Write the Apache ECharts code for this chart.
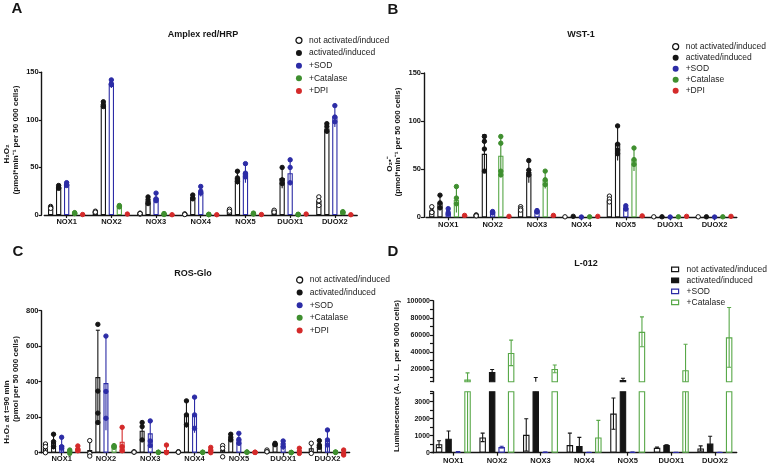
<!DOCTYPE html>
<html>
<head>
<meta charset="utf-8">
<script src="https://cdn.jsdelivr.net/npm/echarts@6/dist/echarts.min.js"></script>
<style>
html, body { margin: 0; padding: 0; background: #fff; }
#main { width: 767px; height: 465px; }
</style>
</head>
<body>
<div id="main"></div>
<script>
var categories = ['NOX1', 'NOX2', 'NOX3', 'NOX4', 'NOX5', 'DUOX1', 'DUOX2'];
var treatments = ['not activated/induced', 'activated/induced', '+SOD', '+Catalase', '+DPI'];

// A - Amplex red/HRP, rows = treatments, cols = categories
var amplexMean = [
    [8, 3, 1.5, 1, 5, 4, 15],
    [29, 116, 15, 18.5, 39, 39, 91],
    [32, 138, 17.5, 24.5, 44, 44, 103.5],
    [2, 9, 1, 0.5, 1.5, 0.5, 3],
    [0.5, 1, 0.3, 0.3, 0.5, 1, 0.3]
];
var amplexErr = [
    [1.5, 1, 0.5, 0.5, 1.5, 1.5, 4.5],
    [2.5, 3, 4, 2.5, 7, 11, 5],
    [2, 4.5, 5, 5, 10, 13, 11],
    [0.5, 1, 0.5, 0.3, 0.5, 0.3, 1],
    [0, 0, 0, 0, 0, 0, 0]
];
var amplexPts = [
    [[9, 8, 7], [3, 4, 3], [1, 2, 1.5], [1, 1, 0.5], [5, 6, 4], [4, 5, 3], [19, 15, 10]],
    [[31, 29, 28], [119, 116, 114], [19, 16, 12], [21, 18, 17], [46, 39, 35], [50, 37, 33], [96, 93, 88]],
    [[34, 32, 31], [142, 138, 137], [23, 17, 15], [30, 25, 23], [54, 44, 40], [58, 50, 34], [115, 103, 98]],
    [[2.5, 2, 1.5], [10, 9, 8.5], [1.5, 1, 0.5], [0.8, 0.5, 0.3], [2, 1.5, 1], [0.8, 0.5, 0.3], [3.5, 3, 2.5]],
    [[0.5], [1], [0.3], [0.3], [0.5], [1], [0.3]]
];

// B - WST-1
var wstMean = [
    [6, 2, 8.5, 0.5, 18, 0.5, 0.5],
    [15, 66, 47, 1, 77, 0.5, 0.5],
    [4, 5, 6, 0.3, 9.5, 0.3, 0.3],
    [18, 64, 39, 0.5, 60, 0.5, 0.5],
    [2, 1, 2, 1, 1.5, 1, 1]
];
var wstErr = [
    [3, 0.5, 1.5, 0, 2.5, 0, 0],
    [8, 20, 11, 0, 18, 0, 0],
    [3, 1, 1, 0, 1.5, 0, 0],
    [13, 20, 9, 0, 12, 0, 0],
    [0, 0, 0, 0, 0, 0, 0]
];
var wstPts = [
    [[11, 6, 5], [2.5, 2, 1.5], [11, 9, 7.5], [0.5], [22, 19, 16], [0.5], [0.5]],
    [[23, 15, 10], [84, 79, 71, 48], [59, 49, 44], [1], [95, 76, 70, 66], [0.5], [0.5]],
    [[9, 5, 3.5], [6, 5, 4.5], [7, 6, 5.5], [0.3], [12, 9.5, 8.5], [0.3], [0.3]],
    [[32, 20, 14], [84, 77, 48, 44], [48, 39, 34], [0.5], [72, 60, 55], [0.5], [0.5]],
    [[2], [1], [2], [1], [1.5], [1], [1]]
];

// C - ROS-Glo
var rosMean = [
    [25, 15, 4, 4, 15, 8, 25],
    [62, 426, 124, 217, 82, 48, 43],
    [43, 392, 109, 213, 75, 40, 66],
    [9, 40, 2, 2, 3, 1, 3],
    [25, 62, 15, 15, 2, 15, -2]
];
var rosErr = [
    [24, 53, 2, 2, 25, 7, 28],
    [42, 264, 46, 75, 22, 5, 25],
    [44, 265, 70, 100, 34, 26, 62],
    [6, 5, 1, 1, 1, 1, 1],
    [13, 81, 28, 15, 1, 12, 13]
];
var rosPts = [
    [[49, 34, 0], [68, -4, -19], [5, 4, 3], [5, 4, 3], [40, 25, -23], [15, 6, 5], [53, -4]],
    [[104, 62, 34], [723, 347, 223, 170], [170, 147, 72], [292, 213, 157], [104, 87, 72], [53, 47, 45], [68, 43, 30]],
    [[87, 34, 25], [657, 345, 194], [179, 66, 40], [313, 213, 138], [109, 75, 53], [66, 49, 34], [128, 72, 43]],
    [[15, 8, -4], [40, 35, 30], [3, 2, 1], [3, 2, 1], [4, 3, 2], [2, 1, 0], [4, 3, 1]],
    [[38, 19, 11], [143, 34, 11], [43, 0], [30, 15, 0], [3, 2, 1], [25, -4], [15, -4, -13]]
];

// D - L-012 (no DPI)
var lumMean = [
    [500, 900, 1050, 450, 2300, 290, 250],
    [820, 16500, 5500, 400, 7000, 450, 540],
    [60, 330, 30, 20, 30, 20, 20],
    [7500, 38800, 20000, 900, 63500, 18500, 57000]
];
var lumErr = [
    [200, 250, 950, 700, 920, 40, 150],
    [460, 2800, 4500, 500, 2000, 20, 430],
    [15, 50, 5, 5, 5, 5, 5],
    [7800, 15000, 4500, 1000, 17500, 30500, 35000]
];

var lumLowTicks = [0, 500, 1000, 1500, 2000, 2500, 3000, 3500, 3590];
var lumLowLabels = [0, 1000, 2000, 3000];
var lumHighTicks = [5000, 10000, 20000, 30000, 40000, 50000, 60000, 70000, 80000, 90000, 100000];
var lumHighLabels = [20000, 40000, 60000, 80000, 100000];

var FONT = '"Liberation Sans", Arial, sans-serif';
var BLACK = '#151515', BLUE = '#2c2ca6', GREEN = '#3f8f2f', LGREEN = '#58a848', RED = '#d42a2a';
var dotColors = [BLACK, BLACK, BLUE, GREEN, RED];

var myChart = echarts.init(document.getElementById('main'));

function catAxis(g, show, margin) {
    return {
        type: 'category', gridIndex: g, data: categories, show: show,
        axisLine: { lineStyle: { color: BLACK, width: 1.4 } },
        axisTick: { show: true, alignWithLabel: true, length: 3, lineStyle: { color: BLACK, width: 1.2 } },
        axisLabel: { interval: 0, fontSize: 7.5, fontWeight: 'bold', color: BLACK, fontFamily: FONT, margin: margin }
    };
}

function valAxis(g, min, max, interval, offset) {
    return {
        type: 'value', gridIndex: g, min: min, max: max, interval: interval, offset: offset,
        splitLine: { show: false },
        axisLine: { show: true, lineStyle: { color: BLACK, width: 1.4 } },
        axisTick: { show: true, length: 3, lineStyle: { color: BLACK, width: 1.2 } },
        axisLabel: { fontSize: 7.5, fontWeight: 'bold', color: BLACK, fontFamily: FONT, margin: 3,
            formatter: function (v) { return String(v); } }
    };
}

// error bar + individual points for one treatment, offset like the bars
function markRender(k, n, step, means, errs, pts, col, hollow) {
    return function (params, api) {
        var i = params.dataIndex;
        var m = means[k][i], e = errs[k][i];
        var off = (k - (n - 1) / 2) * step;
        var kids = [];
        var x = api.coord([i, m])[0] + off;
        if (e > 0) {
            var lowV = m - e;
            var clamped = false;
            if (m >= 0 && lowV < 0) { lowV = 0; clamped = true; }
            var yt = api.coord([i, m + e])[1];
            var yl = api.coord([i, lowV])[1];
            kids.push({ type: 'line', shape: { x1: x, y1: yl, x2: x, y2: yt }, style: { stroke: col, lineWidth: 1.1 } });
            kids.push({ type: 'line', shape: { x1: x - 2, y1: yt, x2: x + 2, y2: yt }, style: { stroke: col, lineWidth: 1.1 } });
            if (!clamped && !pts) {
                kids.push({ type: 'line', shape: { x1: x - 2, y1: yl, x2: x + 2, y2: yl }, style: { stroke: col, lineWidth: 1.1 } });
            }
        }
        if (pts) {
            pts[k][i].forEach(function (v) {
                var y = api.coord([i, v])[1];
                kids.push({ type: 'circle', shape: { cx: x, cy: y, r: 2.2 },
                    style: { fill: hollow ? '#fff' : col, stroke: col, lineWidth: 1 } });
            });
        }
        return { type: 'group', children: kids };
    };
}

function panel(g, means, errs, pts, barW, step, fills, borders, clip) {
    var n = means.length;
    var list = [];
    for (var k = 0; k < n; k++) {
        list.push({
            type: 'bar', name: treatments[k], xAxisIndex: g, yAxisIndex: g, data: means[k],
            barWidth: barW, barGap: Math.round((step - barW) / barW * 100) + '%',
            itemStyle: { color: fills[k], borderColor: borders[k], borderWidth: 1.1 }, z: 2
        });
    }
    for (var k2 = 0; k2 < n; k2++) {
        list.push({
            type: 'custom', name: treatments[k2], xAxisIndex: g, yAxisIndex: g, clip: clip, z: 3,
            data: means[k2].map(function (v, i) { return [i, v]; }),
            renderItem: markRender(k2, n, step, means, errs, pts, pts ? dotColors[k2] : borders[k2], k2 === 0)
        });
    }
    return list;
}

var whiteFills = ['#fff', '#fff', '#fff', '#fff', '#fff'];
var abcBorders = [BLACK, BLACK, BLUE, LGREEN, RED];
var lumFills = ['#fff', BLACK, '#fff', '#fff'];
var lumBorders = [BLACK, BLACK, BLUE, LGREEN];

var series = [].concat(
    panel(0, amplexMean, amplexErr, amplexPts, 5.3, 8, whiteFills, abcBorders, false),
    panel(1, wstMean, wstErr, wstPts, 5.3, 8.2, whiteFills, abcBorders, false),
    panel(2, rosMean, rosErr, rosPts, 5, 8.1, whiteFills, abcBorders, false),
    panel(3, lumMean, lumErr, null, 6.5, 9.5, lumFills, lumBorders, true),
    panel(4, lumMean, lumErr, null, 6.5, 9.5, lumFills, lumBorders, true)
);

function circleLegend(left, top, gap) {
    return {
        orient: 'vertical', left: left, top: top, itemWidth: 6, itemHeight: 6, itemGap: gap,
        padding: 0, selectedMode: false,
        textStyle: { fontSize: 8.5, lineHeight: 10, color: '#222', fontFamily: FONT, padding: [0, 0, 0, 2] },
        data: treatments.map(function (t, k) {
            return { name: t, icon: 'circle',
                itemStyle: k === 0 ? { color: '#fff', borderColor: BLACK, borderWidth: 1.3 } : { color: dotColors[k], borderWidth: 0 } };
        })
    };
}

var lumLegend = {
    orient: 'vertical', left: 671, top: 264.3, itemWidth: 7, itemHeight: 4.5, itemGap: 1,
    padding: 0, selectedMode: false,
    textStyle: { fontSize: 8.5, lineHeight: 10, color: '#222', fontFamily: FONT, padding: [0, 0, 0, 3] },
    data: treatments.slice(0, 4).map(function (t, k) {
        return { name: t, icon: 'rect', itemStyle: { color: lumFills[k], borderColor: lumBorders[k], borderWidth: 1.2 } };
    })
};

function txt(x, y, s, size, rot, weight) {
    return { type: 'text', x: x, y: y, rotation: rot || 0,
        style: { text: s, fontSize: size, fontWeight: weight || 'bold', fontFamily: FONT, fill: BLACK,
            align: 'center', verticalAlign: 'middle' } };
}
var R = Math.PI / 2;

var yLow = valAxis(3, 0, 3590, 1000, -1.5);
yLow.axisLabel.customValues = lumLowLabels;
yLow.axisTick.customValues = lumLowTicks;
yLow.axisLabel.fontSize = 7;
var yHigh = valAxis(4, 5000, 100000, 20000, -1.5);
yHigh.axisLabel.customValues = lumHighLabels;
yHigh.axisTick.customValues = lumHighTicks;
yHigh.axisLabel.fontSize = 7;

option = {
    animation: false,
    backgroundColor: '#fff',
    grid: [
        { left: 44.3, top: 72.3, width: 312.9, height: 142.7, outerBoundsMode: 'none' },
        { left: 426, top: 73, width: 310.8, height: 144.3, outerBoundsMode: 'none' },
        { left: 39.5, top: 310.7, width: 310.1, height: 142, outerBoundsMode: 'none' },
        { left: 431.5, top: 391.7, width: 305.2, height: 61, outerBoundsMode: 'none' },
        { left: 431.5, top: 300.7, width: 305.2, height: 81, outerBoundsMode: 'none' }
    ],
    xAxis: [catAxis(0, true, 3), catAxis(1, true, 4), catAxis(2, true, 2), catAxis(3, true, 4), catAxis(4, false, 4)],
    yAxis: [
        valAxis(0, 0, 150, 50, 2.6),
        valAxis(1, 0, 150, 50, 2),
        valAxis(2, 0, 800, 200, -2),
        yLow,
        yHigh
    ],
    legend: [circleLegend(295.3, 35.3, 2.67), circleLegend(672, 41.7, 1), circleLegend(296, 275, 2.6), lumLegend],
    graphic: [
        txt(17, 9, 'A', 15), txt(393, 10, 'B', 15), txt(18, 252, 'C', 15), txt(393, 252, 'D', 15),
        txt(203, 35, 'Amplex red/HRP', 9), txt(581, 35, 'WST-1', 9),
        txt(193, 274, 'ROS-Glo', 9), txt(586, 264, 'L-012', 9),
        txt(7, 154, 'H\u2082O\u2082', 8, R), txt(15.5, 140, '(pmol*min\u207B\u00B9 per 50 000 cells)', 8, R),
        txt(390, 164, 'O\u2082\u2022\u207B', 8, R), txt(398, 142, '(pmol*min\u207B\u00B9 per 50 000 cells)', 8, R),
        txt(7, 412, 'H\u2082O\u2082 at t=90 min', 8, R), txt(15.5, 379, '(pmol per 50 000 cells)', 8, R),
        txt(397, 376, 'Luminescence (A. U. L. per 50 000 cells)', 8, R)
    ],
    series: series
};

myChart.setOption(option);
</script>
</body>
</html>
